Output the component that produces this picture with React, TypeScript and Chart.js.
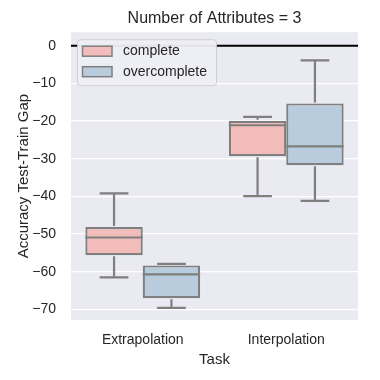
import React, { useEffect, useRef } from "react";
import { Chart, registerables } from "chart.js";

Chart.register(...registerables);

const categories = ["Extrapolation", "Interpolation"];
const seriesNames = ["complete", "overcomplete"];

const completeLow = [-61.5, -39.9];
const completeQ1 = [-55.6, -29.3];
const completeMedian = [-50.9, -21.1];
const completeQ3 = [-48.1, -19.9];
const completeHigh = [-39.2, -18.9];

const overLow = [-69.6, -41.2];
const overQ1 = [-67.0, -31.7];
const overMedian = [-60.7, -26.7];
const overQ3 = [-58.3, -15.3];
const overHigh = [-57.9, -3.9];

const yTicks = [0, -10, -20, -30, -40, -50, -60, -70];

const FONT = "'Liberation Sans', Arial, sans-serif";
const TEXT = "#262626";
const EDGE = "#7f7f7f";
const PINK = "rgb(241,188,185)";
const BLUE = "rgb(185,204,221)";

const stats = [
  { low: completeLow, med: completeMedian, high: completeHigh },
  { low: overLow, med: overMedian, high: overHigh },
];

const bgPlugin = {
  id: "bgPlugin",
  beforeDraw(chart: any) {
    const { ctx, chartArea: a } = chart;
    ctx.save();
    ctx.fillStyle = "#eaeaf2";
    ctx.fillRect(a.left, a.top, a.right - a.left, a.bottom - a.top);
    ctx.restore();
  },
  beforeDatasetsDraw(chart: any) {
    const { ctx, chartArea: a } = chart;
    const y0 = chart.scales.y.getPixelForValue(0);
    ctx.save();
    ctx.strokeStyle = "#000000";
    ctx.lineWidth = 1.8;
    ctx.beginPath();
    ctx.moveTo(a.left, y0);
    ctx.lineTo(a.right, y0);
    ctx.stroke();
    ctx.restore();
  },
  afterDatasetsDraw(chart: any) {
    const { ctx } = chart;
    const ys = chart.scales.y;
    ctx.save();
    ctx.strokeStyle = EDGE;
    ctx.lineWidth = 2.2;
    ctx.lineCap = "butt";
    chart.data.datasets.forEach((ds: any, di: number) => {
      const meta = chart.getDatasetMeta(di);
      const st = stats[di];
      const q1 = ds.data.map((d: number[]) => d[0]);
      const q3 = ds.data.map((d: number[]) => d[1]);
      meta.data.forEach((bar: any, j: number) => {
        const { x, width } = bar.getProps(["x", "width"], true);
        const half = width / 2;
        const cap = width / 4;
        const yLow = ys.getPixelForValue(st.low[j]);
        const yHigh = ys.getPixelForValue(st.high[j]);
        const yQ1 = ys.getPixelForValue(q1[j]);
        const yQ3 = ys.getPixelForValue(q3[j]);
        const yMed = ys.getPixelForValue(st.med[j]);
        ctx.beginPath();
        ctx.moveTo(x, yQ3 - 1);
        ctx.lineTo(x, yHigh);
        ctx.moveTo(x - cap, yHigh);
        ctx.lineTo(x + cap, yHigh);
        ctx.moveTo(x, yQ1 + 1);
        ctx.lineTo(x, yLow);
        ctx.moveTo(x - cap, yLow);
        ctx.lineTo(x + cap, yLow);
        ctx.moveTo(x - half, yMed);
        ctx.lineTo(x + half, yMed);
        ctx.stroke();
      });
    });
    ctx.restore();
  },
  afterDraw(chart: any) {
    const { ctx, chartArea: a } = chart;
    const lx = a.left + 6;
    const ly = a.top + 7;
    const w = 139;
    const h = 46;
    ctx.save();
    ctx.beginPath();
    ctx.roundRect(lx + 0.5, ly + 0.5, w, h, 3);
    ctx.fillStyle = "rgba(238,238,244,0.95)";
    ctx.fill();
    ctx.strokeStyle = "rgba(204,204,204,0.9)";
    ctx.lineWidth = 1;
    ctx.stroke();
    ctx.font = `14px ${FONT}`;
    ctx.textBaseline = "middle";
    ctx.textAlign = "left";
    chart.data.datasets.forEach((ds: any, i: number) => {
      const cy = ly + 12 + i * 20.5;
      ctx.fillStyle = ds.backgroundColor;
      ctx.fillRect(lx + 5.5, cy - 5, 29.5, 10);
      ctx.strokeStyle = EDGE;
      ctx.lineWidth = 1.5;
      ctx.strokeRect(lx + 5.5, cy - 5, 29.5, 10);
      ctx.fillStyle = TEXT;
      ctx.fillText(ds.label, lx + 46, cy);
    });
    ctx.restore();
  },
};

export default function App() {
  const ref = useRef<HTMLCanvasElement | null>(null);
  useEffect(() => {
    if (!ref.current) return;
    const chart = new Chart(ref.current, {
      type: "bar",
      data: {
        labels: categories,
        datasets: [
          {
            label: seriesNames[0],
            data: categories.map((_, i) => [completeQ1[i], completeQ3[i]]) as any,
            backgroundColor: PINK,
            borderColor: EDGE,
            borderWidth: 2.2,
            borderSkipped: false,
          },
          {
            label: seriesNames[1],
            data: categories.map((_, i) => [overQ1[i], overQ3[i]]) as any,
            backgroundColor: BLUE,
            borderColor: EDGE,
            borderWidth: 2.2,
            borderSkipped: false,
          },
        ],
      },
      options: {
        animation: false,
        responsive: false,
        events: [],
        layout: { padding: { left: 0, top: 0, bottom: 0, right: 22 } },
        datasets: { bar: { categoryPercentage: 0.8, barPercentage: 1.0 } },
        plugins: {
          legend: { display: false },
          tooltip: { enabled: false },
          title: {
            display: true,
            text: "Number of Attributes = 3",
            fullSize: false,
            color: TEXT,
            font: { family: FONT, size: 16, weight: "normal" },
            padding: { top: 9, bottom: 4 },
          },
        },
        scales: {
          x: {
            grid: { display: false },
            border: { display: false },
            ticks: {
              color: TEXT,
              font: { family: FONT, size: 14 },
              padding: 4,
            },
            title: {
              display: true,
              text: "Task",
              color: TEXT,
              font: { family: FONT, size: 15 },
              padding: { top: 0, bottom: 11 },
            },
            afterFit(scale: any) {
              scale.height = 60;
            },
          },
          y: {
            min: -72.8,
            max: 3.6,
            grid: { color: "#ffffff", lineWidth: 1.3, drawTicks: false },
            border: { display: false },
            ticks: {
              stepSize: 10,
              includeBounds: false,
              color: TEXT,
              font: { family: FONT, size: 14 },
              padding: 15,
              callback: (v: any) => {
                const n = Number(v);
                if (!yTicks.includes(n)) return "";
                return n < 0 ? "\u2212" + Math.abs(n) : String(n);
              },
            },
            title: {
              display: true,
              text: "Accuracy Test-Train Gap",
              color: TEXT,
              font: { family: FONT, size: 15 },
              padding: { top: 15, bottom: 0 },
            },
            afterFit(scale: any) {
              scale.width = 71;
            },
          },
        },
      },
      plugins: [bgPlugin],
    });
    return () => chart.destroy();
  }, []);
  return (
    <div style={{ position: "absolute", left: 0, top: 0, width: 380, height: 380 }}>
      <canvas ref={ref} width={380} height={380} />
    </div>
  );
}
